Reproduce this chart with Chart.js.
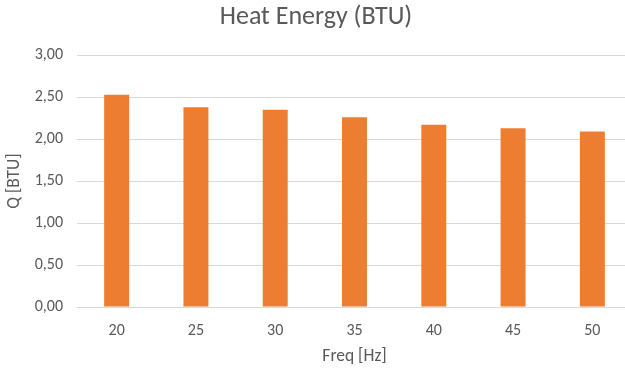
<!DOCTYPE html>
<html>
<head>
<meta charset="utf-8">
<script src="https://cdn.jsdelivr.net/npm/chart.js@4"></script>
<style>
  html, body { margin: 0; padding: 0; background: #fff; overflow: hidden; }
  #wrap { width: 632px; height: 370px; }
</style>
</head>
<body>
<div id="wrap"><canvas id="chart"></canvas></div>
<script>
const freqs = ["20", "25", "30", "35", "40", "45", "50"];
const heatBtu = [2.53, 2.38, 2.35, 2.26, 2.17, 2.13, 2.09];
const yTicks = [0, 0.5, 1, 1.5, 2, 2.5, 3];

const textColor = "#595959";
const gridColor = "#d9d9d9";
const font = "'Carlito', 'Open Sans', sans-serif";

new Chart(document.getElementById("chart"), {
  type: "bar",
  data: {
    labels: freqs,
    datasets: [{
      label: "Q [BTU]",
      data: heatBtu,
      backgroundColor: "#ed7d31",
      barPercentage: 0.63,
      categoryPercentage: 0.5
    }]
  },
  options: {
    responsive: true,
    maintainAspectRatio: false,
    animation: false,
    layout: { padding: 0 },
    plugins: {
      legend: { display: false },
      tooltip: { enabled: false },
      title: {
        display: true,
        text: "Heat Energy (BTU)",
        color: textColor,
        font: { family: font, size: 26, weight: "normal" },
        padding: { top: 2, bottom: 22 }
      }
    },
    scales: {
      x: {
        grid: { display: false, drawTicks: false },
        border: { color: gridColor },
        ticks: { color: textColor, font: { family: font, size: 16 }, padding: 14 },
        title: {
          display: true,
          text: "Freq [Hz]",
          color: textColor,
          font: { family: font, size: 17.5 },
          padding: { top: 4, bottom: 2.5 }
        },
        afterFit: s => { s.height = 63; }
      },
      y: {
        min: 0,
        max: 3,
        afterBuildTicks: s => { s.ticks = yTicks.map(v => ({ value: v })); },
        grid: { color: gridColor, drawTicks: false },
        border: { display: false },
        ticks: {
          color: textColor,
          font: { family: font, size: 16 },
          padding: 14,
          callback: v => v.toFixed(2).replace(".", ",")
        },
        title: {
          display: true,
          text: "Q [BTU]",
          color: textColor,
          font: { family: font, size: 17.5 },
          padding: { top: 4.5, bottom: 0 }
        },
        afterFit: s => { s.width = 77; }
      }
    }
  }
});
</script>
</body>
</html>
